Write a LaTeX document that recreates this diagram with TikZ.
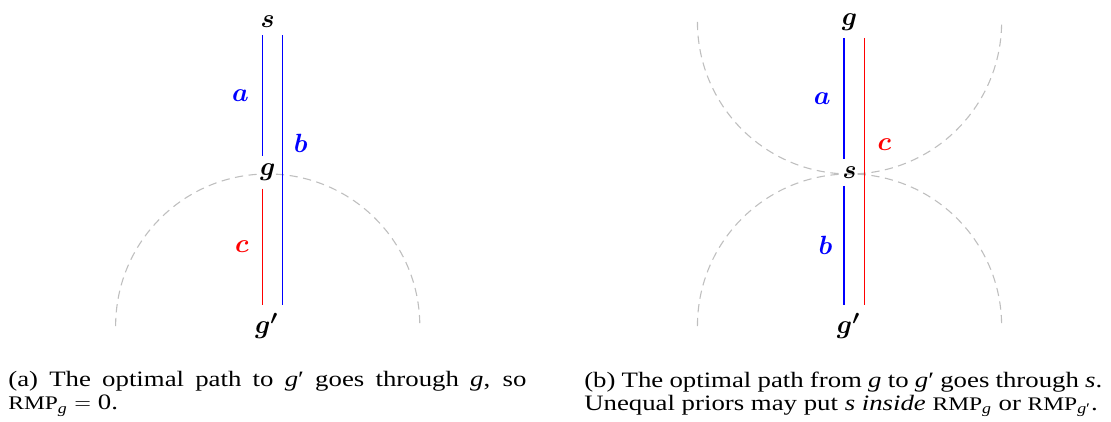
\documentclass[tikz,border=0pt]{standalone}
\usepackage{amsmath}
\usepackage{fontspec}
\setmainfont{Liberation Serif}
\newfontfamily\capfont[FakeStretch=1.22]{Liberation Serif}
\usepackage{tikz}
\usetikzlibrary{backgrounds,positioning}
\newcommand{\rmpname}{{\fontsize{10.5}{12}\selectfont RMP}}

\begin{document}
\begin{tikzpicture}[
 vertexlabel/.style={font=\fontsize{15}{18}\selectfont,inner sep=4pt},
 pathline/.style={line width=0.7pt},
 edgelabel/.style={font=\fontsize{15}{18}\selectfont,inner sep=4pt},
 rmparc/.style={draw=gray!50,line width=0.6pt,dash pattern=on 4.5pt off 3pt},
 captiontext/.style={text width=283pt,align=justify,inner sep=0pt,anchor=north west,font=\capfont\fontsize{12}{12.5}\selectfont}
]
\useasboundingbox (0,0) rectangle (21.33,-8.083);
% (a) left panel
\node[vertexlabel] (sa) at (5.14,-0.42) {$\boldsymbol{s}$};
\node[vertexlabel] (ga) at (5.14,-3.31) {$\boldsymbol{g}$};
\node[vertexlabel] (gpa) at (5.12,-6.26) {$\boldsymbol{g'}$};
\draw[pathline,blue] ([xshift=-3pt]sa.south) -- ([xshift=-3pt]ga.north)
  node[midway,left=3pt,edgelabel] (la) {$\boldsymbol{a}$};
\draw[pathline,red] ([xshift=-3pt]ga.south) -- ([xshift=-3pt]gpa.north -| ga.south)
  node[midway,left=3pt,edgelabel] (lc) {$\boldsymbol{c}$};
\draw[pathline,blue] ([xshift=8pt]sa.south) -- ([xshift=8pt]gpa.north -| sa.south)
  node[pos=0.4,right=2pt,edgelabel] (lb) {$\boldsymbol{b}$};
% (b) right panel
\node[vertexlabel] (gb) at (16.31,-0.42) {$\boldsymbol{g}$};
\node[vertexlabel] (sb) at (16.31,-3.31) {$\boldsymbol{s}$};
\node[vertexlabel] (gpb) at (16.29,-6.26) {$\boldsymbol{g'}$};
\draw[pathline,blue] ([xshift=-3pt]gb.south) -- ([xshift=-3pt]sb.north)
  node[midway,left=3pt,edgelabel] (lab) {$\boldsymbol{a}$};
\draw[pathline,blue] ([xshift=-3pt]sb.south) -- ([xshift=-3pt]gpb.north -| sb.south)
  node[midway,left=2pt,edgelabel] (lbb) {$\boldsymbol{b}$};
\draw[pathline,red] ([xshift=8pt]gb.south) -- ([xshift=8pt]gpb.north -| gb.south)
  node[pos=0.4,right=3pt,edgelabel] (lcb) {$\boldsymbol{c}$};
% dashed arcs behind everything
\begin{scope}[on background layer]
\draw[rmparc] ([xshift=-2.92cm]gpa.center -| ga.center) arc[start angle=180,end angle=0,radius=2.92cm];
\draw[rmparc] ([xshift=-2.92cm]gb.center) arc[start angle=180,end angle=360,radius=2.92cm];
\draw[rmparc] ([xshift=-2.92cm]gpb.center -| sb.center) arc[start angle=180,end angle=0,radius=2.92cm];
\end{scope}
% captions
\node[captiontext] (capa) at (0.154,-7.13) {(a) The optimal path to \textit{g}′ goes through \textit{g}, so\linebreak
  \rmpname\textsubscript{\textit{g}} $=$ 0.};
\node[captiontext] (capb) at (11.21,-7.13) {(b) The optimal path from \textit{g} to \textit{g}′ goes through \textit{s}.\linebreak
  Unequal priors may put \textit{s} \textit{inside} \rmpname\textsubscript{\textit{g}} or \rmpname\textsubscript{\textit{g}′}.};
\end{tikzpicture}
\end{document}
